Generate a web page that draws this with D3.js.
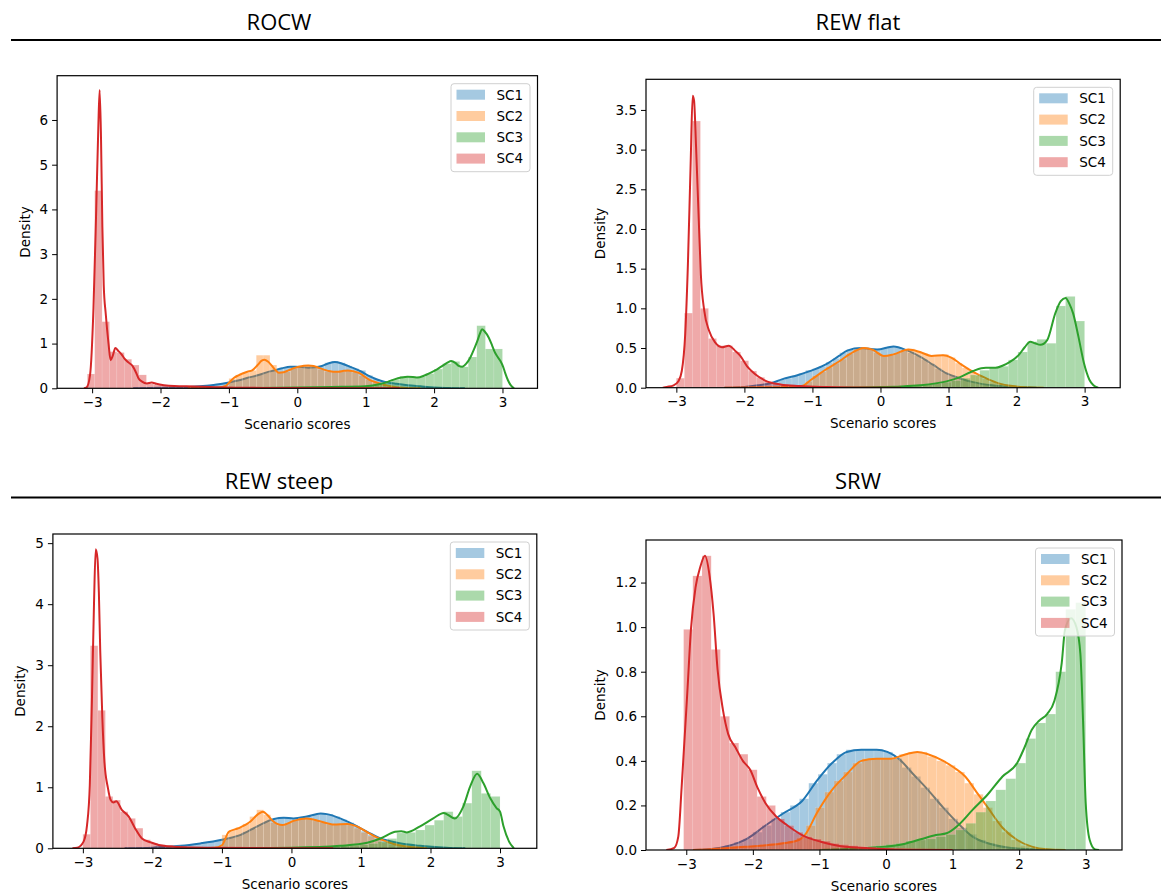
<!DOCTYPE html>
<html>
<head>
<meta charset="utf-8">
<script src="https://cdn.jsdelivr.net/npm/d3@7"></script>
<style>
body { margin: 0; background: #fff; }
text { font-family: "DejaVu Sans", sans-serif; }
</style>
</head>
<body>
<div id="chart"></div>
<script>
// series names, ticks
var seriesNames = ["SC1", "SC2", "SC3", "SC4"];
var colors = ["#1f77b4", "#ff7f0e", "#2ca02c", "#d62728"];
var xTicks = [-3, -2, -1, 0, 1, 2, 3];

// ---------- ROCW ----------
var rocw_sc1_bins = [-2.0, 0.1];
var rocw_sc1_hist = [0.01,0.015,0.02,0.025,0.03,0.04,0.06,0.08,0.10,0.12,0.14,0.17,0.21,0.26,0.30,0.35,0.39,0.43,0.46,0.49,0.48,0.46,0.46,0.50,0.57,0.61,0.57,0.50,0.44,0.40,0.29,0.21,0.15,0.11,0.09,0.07,0.06,0.05,0.04,0.03,0.02,0.015,0.01,0.005];
var rocw_sc2_bins = [-1.1, 0.1];
var rocw_sc2_hist = [0.04,0.22,0.30,0.35,0.40,0.74,0.74,0.52,0.36,0.37,0.44,0.48,0.52,0.48,0.42,0.38,0.37,0.38,0.40,0.36,0.28,0.19,0.13,0.08,0.05,0.03,0.015,0.005];
var rocw_sc3_bins = [-1.0, 0.125];
var rocw_sc3_hist = [0.005,0.005,0.008,0.01,0.012,0.015,0.018,0.02,0.022,0.025,0.03,0.033,0.036,0.04,0.045,0.05,0.07,0.09,0.14,0.20,0.27,0.24,0.26,0.33,0.43,0.55,0.60,0.48,0.70,1.40,0.88,0.88];
var rocw_sc4_bins = [-3.07, 0.108];
var rocw_sc4_hist = [0.32,4.42,1.49,0.82,0.80,0.65,0.52,0.30,0.10,0.08,0.07,0.06,0.05,0.05,0.04,0.04,0.035,0.03,0.025,0.02,0.02,0.015,0.012,0.01,0.008,0.006,0.005,0.004,0.003,0.002];
var rocw_sc1_kde = [[-2.4,0],[-2.0,0.01],[-1.67,0.02],[-1.38,0.05],[-1.2,0.08],[-1.0,0.13],[-0.85,0.18],[-0.71,0.24],[-0.58,0.29],[-0.46,0.35],[-0.34,0.40],[-0.22,0.45],[-0.10,0.48],[-0.03,0.48],[0.06,0.475],[0.16,0.46],[0.26,0.47],[0.36,0.50],[0.46,0.56],[0.55,0.59],[0.64,0.56],[0.74,0.50],[0.84,0.44],[0.94,0.37],[1.03,0.29],[1.13,0.22],[1.22,0.17],[1.32,0.13],[1.45,0.10],[1.61,0.07],[1.8,0.045],[2.0,0.02],[2.2,0.008],[2.45,0]];
var rocw_sc2_kde = [[-1.6,0],[-1.3,0.005],[-1.19,0.01],[-1.10,0.03],[-1.04,0.06],[-0.97,0.17],[-0.92,0.24],[-0.86,0.29],[-0.80,0.33],[-0.73,0.37],[-0.66,0.40],[-0.58,0.52],[-0.52,0.62],[-0.48,0.64],[-0.43,0.60],[-0.37,0.50],[-0.32,0.41],[-0.27,0.35],[-0.20,0.36],[-0.13,0.40],[-0.05,0.45],[0.02,0.48],[0.16,0.51],[0.24,0.50],[0.31,0.46],[0.45,0.39],[0.53,0.37],[0.60,0.37],[0.68,0.39],[0.74,0.40],[0.82,0.38],[0.89,0.35],[0.96,0.29],[1.03,0.21],[1.10,0.16],[1.18,0.12],[1.32,0.06],[1.45,0.025],[1.6,0.008],[1.8,0]];
var rocw_sc3_kde = [[-1.2,0],[-0.6,0.008],[0,0.018],[0.5,0.03],[0.99,0.045],[1.12,0.07],[1.23,0.10],[1.33,0.15],[1.42,0.20],[1.52,0.24],[1.61,0.26],[1.69,0.255],[1.76,0.24],[1.85,0.28],[1.95,0.35],[2.05,0.43],[2.14,0.52],[2.20,0.58],[2.25,0.61],[2.31,0.57],[2.36,0.50],[2.41,0.48],[2.47,0.55],[2.53,0.69],[2.58,0.86],[2.63,1.05],[2.67,1.22],[2.70,1.32],[2.74,1.27],[2.80,1.13],[2.85,0.95],[2.89,0.80],[2.93,0.70],[2.97,0.61],[3.01,0.48],[3.04,0.34],[3.08,0.18],[3.12,0.07],[3.17,0]];
var rocw_sc4_kde = [[-3.12,0],[-3.08,0.02],[-3.03,0.3],[-2.98,1.8],[-2.94,4.0],[-2.91,5.8],[-2.89,6.67],[-2.87,5.6],[-2.85,3.6],[-2.83,2.3],[-2.80,1.65],[-2.76,1.0],[-2.73,0.63],[-2.70,0.72],[-2.66,0.90],[-2.62,0.84],[-2.57,0.76],[-2.53,0.67],[-2.47,0.58],[-2.41,0.50],[-2.36,0.36],[-2.32,0.22],[-2.27,0.15],[-2.20,0.11],[-2.13,0.13],[-2.06,0.10],[-1.95,0.07],[-1.80,0.05],[-1.5,0.04],[-1.2,0.025],[-0.9,0.015],[-0.5,0.008],[0,0.004],[0.5,0.002],[1.0,0.001],[1.5,0]];

// ---------- REW flat ----------
var flat_sc1_bins = [-2.0, 0.1];
var flat_sc1_hist = [0.01,0.02,0.03,0.05,0.07,0.10,0.12,0.15,0.18,0.22,0.24,0.27,0.32,0.37,0.44,0.48,0.50,0.50,0.49,0.48,0.50,0.52,0.51,0.48,0.44,0.40,0.35,0.30,0.24,0.19,0.15,0.12,0.09,0.07,0.05,0.04,0.03,0.02,0.015,0.01,0.005];
var flat_sc2_bins = [-1.2, 0.1];
var flat_sc2_hist = [0.02,0.08,0.15,0.20,0.26,0.31,0.36,0.43,0.48,0.51,0.49,0.44,0.40,0.41,0.44,0.47,0.49,0.46,0.43,0.41,0.41,0.42,0.38,0.31,0.25,0.20,0.15,0.11,0.07,0.05,0.03,0.02,0.01];
var flat_sc3_bins = [-0.92, 0.14];
var flat_sc3_hist = [0.002,0.003,0.004,0.006,0.008,0.01,0.01,0.015,0.02,0.025,0.03,0.04,0.05,0.07,0.09,0.12,0.16,0.22,0.26,0.27,0.35,0.45,0.58,0.61,0.56,1.03,1.15,0.84];
var flat_sc4_bins = [-3.0, 0.118];
var flat_sc4_hist = [0.12,0.94,3.36,1.00,0.62,0.53,0.53,0.45,0.34,0.21,0.13,0.08,0.05,0.04,0.03,0.02,0.02,0.015,0.01,0.01,0.01,0.005,0.005];
var flat_sc1_kde = [[-2.3,0],[-2.0,0.01],[-1.8,0.03],[-1.6,0.06],[-1.45,0.105],[-1.21,0.16],[-0.97,0.23],[-0.77,0.31],[-0.61,0.40],[-0.48,0.47],[-0.29,0.50],[-0.05,0.48],[0.19,0.52],[0.39,0.47],[0.58,0.39],[0.77,0.29],[0.97,0.18],[1.16,0.12],[1.36,0.07],[1.64,0.03],[1.94,0.01],[2.3,0]];
var flat_sc2_kde = [[-2.3,0],[-1.8,0.005],[-1.4,0.01],[-1.16,0.02],[-1.02,0.10],[-0.82,0.22],[-0.61,0.33],[-0.44,0.43],[-0.24,0.50],[-0.12,0.48],[0.05,0.40],[0.19,0.42],[0.41,0.48],[0.58,0.45],[0.75,0.40],[0.92,0.41],[1.04,0.38],[1.19,0.29],[1.36,0.20],[1.55,0.12],[1.74,0.055],[1.94,0.02],[2.13,0.005],[2.4,0]];
var flat_sc3_kde = [[-1.0,0],[-0.5,0.003],[0,0.008],[0.3,0.015],[0.58,0.03],[0.97,0.08],[1.16,0.13],[1.36,0.21],[1.48,0.245],[1.55,0.25],[1.69,0.25],[1.80,0.28],[1.89,0.32],[2.03,0.41],[2.12,0.51],[2.20,0.58],[2.27,0.56],[2.35,0.54],[2.45,0.60],[2.57,0.94],[2.65,1.09],[2.72,1.13],[2.78,1.05],[2.83,0.94],[2.91,0.64],[2.99,0.31],[3.07,0.10],[3.13,0.03],[3.2,0]];
var flat_sc4_kde = [[-3.2,0],[-3.14,0.01],[-3.04,0.03],[-2.97,0.08],[-2.92,0.21],[-2.87,0.67],[-2.83,1.56],[-2.79,2.82],[-2.76,3.68],[-2.74,3.62],[-2.71,3.03],[-2.67,2.10],[-2.64,1.43],[-2.59,0.97],[-2.52,0.72],[-2.43,0.57],[-2.33,0.51],[-2.23,0.53],[-2.13,0.46],[-2.06,0.40],[-1.96,0.27],[-1.84,0.17],[-1.67,0.08],[-1.47,0.04],[-1.2,0.02],[-0.8,0.008],[-0.3,0.003],[0.3,0]];

// ---------- REW steep ----------
var steep_sc1_bins = [-2.0, 0.1];
var steep_sc1_hist = [0.01,0.02,0.03,0.035,0.045,0.055,0.07,0.09,0.11,0.13,0.15,0.18,0.22,0.27,0.32,0.38,0.43,0.47,0.50,0.50,0.49,0.50,0.52,0.55,0.57,0.56,0.52,0.47,0.42,0.35,0.28,0.22,0.17,0.12,0.10,0.08,0.06,0.05,0.04,0.03,0.02,0.015,0.01];
var steep_sc2_bins = [-1.1, 0.1];
var steep_sc2_hist = [0.03,0.22,0.30,0.34,0.40,0.52,0.63,0.55,0.42,0.38,0.42,0.46,0.49,0.48,0.45,0.42,0.39,0.39,0.40,0.38,0.33,0.26,0.20,0.14,0.09,0.06,0.04,0.02,0.01];
var steep_sc3_bins = [-1.05, 0.135];
var steep_sc3_hist = [0.001,0.001,0.002,0.003,0.004,0.006,0.008,0.01,0.012,0.015,0.02,0.025,0.03,0.04,0.05,0.06,0.08,0.11,0.16,0.25,0.26,0.30,0.38,0.46,0.60,0.52,0.74,1.27,0.90,0.85];
var steep_sc4_bins = [-3.0, 0.108];
var steep_sc4_hist = [0.23,3.32,2.26,0.85,0.79,0.60,0.49,0.33,0.14,0.08,0.06,0.05,0.04,0.035,0.03,0.025,0.02,0.02,0.015,0.015,0.01,0.01,0.01,0.008,0.006,0.005,0.004,0.003];
var steep_sc1_kde = [[-2.4,0],[-2.0,0.01],[-1.8,0.025],[-1.59,0.04],[-1.31,0.08],[-1.0,0.14],[-0.73,0.22],[-0.49,0.36],[-0.25,0.48],[-0.11,0.50],[0.03,0.49],[0.22,0.52],[0.42,0.57],[0.51,0.56],[0.70,0.49],[0.89,0.39],[1.09,0.27],[1.28,0.16],[1.52,0.09],[1.85,0.04],[2.23,0.01],[2.5,0]];
var steep_sc2_kde = [[-1.6,0],[-1.3,0.005],[-1.11,0.01],[-1.0,0.05],[-0.90,0.27],[-0.76,0.33],[-0.59,0.44],[-0.48,0.56],[-0.41,0.60],[-0.35,0.55],[-0.28,0.46],[-0.13,0.38],[0.03,0.45],[0.22,0.49],[0.42,0.44],[0.61,0.39],[0.80,0.40],[0.94,0.36],[1.11,0.25],[1.28,0.15],[1.47,0.07],[1.76,0.016],[1.95,0]];
var steep_sc3_kde = [[-1.0,0],[-0.4,0.004],[0,0.008],[0.70,0.04],[1.09,0.09],[1.28,0.16],[1.49,0.27],[1.58,0.28],[1.66,0.26],[1.85,0.36],[2.04,0.49],[2.19,0.58],[2.35,0.49],[2.47,0.68],[2.57,1.01],[2.67,1.22],[2.76,1.07],[2.86,0.82],[2.95,0.66],[3.0,0.60],[3.05,0.36],[3.13,0.11],[3.2,0]];
var steep_sc4_kde = [[-3.15,0],[-3.08,0.01],[-2.99,0.11],[-2.94,0.38],[-2.90,1.04],[-2.87,2.41],[-2.84,4.0],[-2.815,4.9],[-2.79,4.75],[-2.77,4.2],[-2.75,3.23],[-2.72,2.14],[-2.69,1.42],[-2.64,0.99],[-2.60,0.79],[-2.56,0.75],[-2.52,0.77],[-2.44,0.63],[-2.34,0.52],[-2.25,0.33],[-2.15,0.16],[-2.03,0.10],[-1.84,0.04],[-1.56,0.016],[-1.2,0.008],[-0.6,0.004],[0,0.002],[0.6,0]];

// ---------- SRW ----------
var srw_sc1_bins = [-2.7, 0.14];
var srw_sc1_hist = [0.005,0.01,0.02,0.035,0.05,0.08,0.11,0.14,0.17,0.20,0.23,0.30,0.34,0.39,0.43,0.45,0.45,0.45,0.45,0.44,0.41,0.37,0.33,0.28,0.23,0.19,0.14,0.10,0.07,0.045,0.03,0.018,0.01];
var srw_sc2_bins = [-2.6, 0.14];
var srw_sc2_hist = [0.005,0.008,0.012,0.015,0.02,0.025,0.03,0.035,0.04,0.055,0.11,0.19,0.26,0.31,0.35,0.39,0.41,0.41,0.41,0.41,0.43,0.44,0.44,0.42,0.40,0.38,0.35,0.30,0.25,0.19,0.13,0.08,0.045,0.02,0.01,0.004];
var srw_sc3_bins = [-0.9, 0.15];
var srw_sc3_hist = [0.003,0.005,0.008,0.01,0.015,0.02,0.025,0.03,0.04,0.045,0.05,0.06,0.07,0.09,0.12,0.17,0.22,0.27,0.32,0.39,0.50,0.57,0.61,0.80,1.08,1.11];
var srw_sc4_bins = [-3.04, 0.138];
var srw_sc4_hist = [0.99,1.23,1.32,0.90,0.60,0.48,0.43,0.36,0.24,0.20,0.14,0.11,0.08,0.06,0.05,0.04,0.03,0.025,0.02,0.015,0.012,0.01,0.008,0.006,0.005,0.004,0.003,0.002,0.002,0.001];
var srw_sc1_kde = [[-2.9,0],[-2.65,0.003],[-2.37,0.018],[-2.09,0.05],[-1.81,0.11],[-1.54,0.165],[-1.26,0.22],[-1.04,0.31],[-0.81,0.39],[-0.59,0.44],[-0.37,0.45],[-0.14,0.45],[0.02,0.44],[0.19,0.41],[0.41,0.34],[0.63,0.27],[0.86,0.19],[1.08,0.12],[1.30,0.06],[1.53,0.03],[1.80,0.012],[2.19,0.003],[2.5,0]];
var srw_sc2_kde = [[-2.9,0],[-2.65,0.003],[-2.09,0.015],[-1.54,0.03],[-1.31,0.045],[-1.20,0.075],[-1.04,0.165],[-0.81,0.27],[-0.59,0.34],[-0.37,0.40],[-0.14,0.41],[0.08,0.41],[0.30,0.43],[0.47,0.44],[0.63,0.43],[0.86,0.40],[1.02,0.37],[1.19,0.33],[1.36,0.26],[1.53,0.19],[1.75,0.10],[1.97,0.045],[2.19,0.015],[2.42,0.003],[2.7,0]];
var srw_sc3_kde = [[-1.0,0],[-0.70,0.003],[-0.14,0.012],[0.19,0.022],[0.52,0.048],[0.75,0.067],[0.91,0.075],[1.08,0.11],[1.30,0.18],[1.53,0.25],[1.75,0.33],[1.97,0.39],[2.08,0.46],[2.19,0.54],[2.30,0.58],[2.42,0.61],[2.53,0.67],[2.64,0.84],[2.69,0.99],[2.78,1.04],[2.86,1.00],[2.92,0.88],[2.96,0.58],[3.0,0.21],[3.06,0.045],[3.14,0.003],[3.2,0]];
var srw_sc4_kde = [[-3.3,0],[-3.18,0.01],[-3.12,0.06],[-3.07,0.28],[-2.98,0.73],[-2.93,0.99],[-2.86,1.18],[-2.79,1.27],[-2.72,1.32],[-2.65,1.23],[-2.59,1.06],[-2.53,0.81],[-2.45,0.63],[-2.37,0.52],[-2.26,0.46],[-2.15,0.40],[-2.04,0.36],[-1.93,0.28],[-1.81,0.21],[-1.65,0.15],[-1.48,0.11],[-1.26,0.067],[-0.98,0.037],[-0.70,0.018],[-0.14,0.006],[0.41,0.001],[1.0,0]];

// y tick values per panel
var rocwYTicks = [0, 1, 2, 3, 4, 5, 6];
var flatYTicks = [0, 0.5, 1.0, 1.5, 2.0, 2.5, 3.0, 3.5];
var steepYTicks = [0, 1, 2, 3, 4, 5];
var srwYTicks = [0, 0.2, 0.4, 0.6, 0.8, 1.0, 1.2];

var panels = [
    { title: "ROCW", tx: 279, ty: 30, left: 57.1, right: 537.5, top: 75.7, bottom: 388.3,
      xdom: [-3.512, 3.512], ydom: [0, 6.99], yticks: rocwYTicks, yfmt: "d", ylabX: 25,
      bins: [rocw_sc1_bins, rocw_sc2_bins, rocw_sc3_bins, rocw_sc4_bins],
      hist: [rocw_sc1_hist, rocw_sc2_hist, rocw_sc3_hist, rocw_sc4_hist],
      kde: [rocw_sc1_kde, rocw_sc2_kde, rocw_sc3_kde, rocw_sc4_kde] },
    { title: "REW flat", tx: 858, ty: 30, left: 646, right: 1120.2, top: 79.3, bottom: 387.7,
      xdom: [-3.446, 3.523], ydom: [0, 3.886], yticks: flatYTicks, yfmt: ".1f", ylabX: 600,
      bins: [flat_sc1_bins, flat_sc2_bins, flat_sc3_bins, flat_sc4_bins],
      hist: [flat_sc1_hist, flat_sc2_hist, flat_sc3_hist, flat_sc4_hist],
      kde: [flat_sc1_kde, flat_sc2_kde, flat_sc3_kde, flat_sc4_kde] },
    { title: "REW steep", tx: 279, ty: 489, left: 52.9, right: 536.8, top: 534, bottom: 848.3,
      xdom: [-3.431, 3.529], ydom: [0, 5.15], yticks: steepYTicks, yfmt: "d", ylabX: 20,
      bins: [steep_sc1_bins, steep_sc2_bins, steep_sc3_bins, steep_sc4_bins],
      hist: [steep_sc1_hist, steep_sc2_hist, steep_sc3_hist, steep_sc4_hist],
      kde: [steep_sc1_kde, steep_sc2_kde, steep_sc3_kde, steep_sc4_kde] },
    { title: "SRW", tx: 858, ty: 489, left: 646, right: 1122, top: 540, bottom: 850,
      xdom: [-3.605, 3.545], ydom: [0, 1.391], yticks: srwYTicks, yfmt: ".1f", ylabX: 600,
      bins: [srw_sc1_bins, srw_sc2_bins, srw_sc3_bins, srw_sc4_bins],
      hist: [srw_sc1_hist, srw_sc2_hist, srw_sc3_hist, srw_sc4_hist],
      kde: [srw_sc1_kde, srw_sc2_kde, srw_sc3_kde, srw_sc4_kde] }
];

var svg = d3.select("#chart")
    .append("svg")
    .attr("width", 1161)
    .attr("height", 896)
    .style("display", "block");

svg.append("rect").attr("width", 1161).attr("height", 896).attr("fill", "#fff");

// header rules
[40, 497.5].forEach(function (yy) {
    svg.append("line")
        .attr("x1", 11).attr("x2", 1161)
        .attr("y1", yy).attr("y2", yy)
        .attr("stroke", "#000").attr("stroke-width", 2.2);
});

panels.forEach(function (p, pi) {
    // title
    svg.append("text")
        .attr("x", p.tx).attr("y", p.ty)
        .attr("text-anchor", "middle")
        .style("font-family", "'Open Sans', sans-serif")
        .style("font-size", "22px")
        .text(p.title);

    var x = d3.scaleLinear().domain(p.xdom).range([p.left, p.right]);
    var y = d3.scaleLinear().domain(p.ydom).range([p.bottom, p.top]);

    var clipId = "clip" + pi;
    svg.append("clipPath").attr("id", clipId)
        .append("rect")
        .attr("x", p.left).attr("y", p.top)
        .attr("width", p.right - p.left).attr("height", p.bottom - p.top);

    var plot = svg.append("g").attr("clip-path", "url(#" + clipId + ")");

    var line = d3.line()
        .x(function (d) { return x(d[0]); })
        .y(function (d) { return y(d[1]); })
        .curve(d3.curveMonotoneX);

    // each series: histogram bars, then kde line
    seriesNames.forEach(function (name, si) {
        var b = p.bins[si];
        plot.append("g")
            .selectAll("rect")
            .data(p.hist[si])
            .enter()
            .append("rect")
            .attr("x", function (d, i) { return x(b[0] + i * b[1]); })
            .attr("width", function (d, i) { return x(b[0] + (i + 1) * b[1]) - x(b[0] + i * b[1]); })
            .attr("y", function (d) { return y(d); })
            .attr("height", function (d) { return y(0) - y(d); })
            .attr("fill", colors[si])
            .attr("fill-opacity", 0.4)
            .attr("stroke", "#fff")
            .attr("stroke-opacity", 0.25)
            .attr("stroke-width", 0.5);

        plot.append("path")
            .datum(p.kde[si])
            .attr("d", line)
            .attr("fill", "none")
            .attr("stroke", colors[si])
            .attr("stroke-width", 2)
            .attr("stroke-linejoin", "round");
    });

    // axes
    var xAxis = svg.append("g")
        .attr("transform", "translate(0," + p.bottom + ")")
        .call(d3.axisBottom(x).tickValues(xTicks).tickFormat(d3.format("d")).tickSize(5).tickPadding(4));
    var yAxis = svg.append("g")
        .attr("transform", "translate(" + p.left + ",0)")
        .call(d3.axisLeft(y).tickValues(p.yticks).tickFormat(d3.format(p.yfmt)).tickSize(5).tickPadding(4));
    [xAxis, yAxis].forEach(function (a) {
        a.select(".domain").remove();
        a.selectAll("line").attr("stroke", "#000").attr("stroke-width", 1);
        a.selectAll("text")
            .style("font-family", "'DejaVu Sans', sans-serif")
            .style("font-size", "13.5px")
            .attr("fill", "#000");
    });

    // frame
    svg.append("rect")
        .attr("x", p.left).attr("y", p.top)
        .attr("width", p.right - p.left).attr("height", p.bottom - p.top)
        .attr("fill", "none").attr("stroke", "#000").attr("stroke-width", 1.2);

    // axis labels
    svg.append("text")
        .attr("x", (p.left + p.right) / 2)
        .attr("y", p.bottom + 36)
        .attr("dy", "0.35em")
        .attr("text-anchor", "middle")
        .style("font-size", "13.5px")
        .text("Scenario scores");
    svg.append("text")
        .attr("transform", "translate(" + p.ylabX + "," + ((p.top + p.bottom) / 2) + ") rotate(-90)")
        .attr("dy", "0.35em")
        .attr("text-anchor", "middle")
        .style("font-size", "13.5px")
        .text("Density");

    // legend
    var lg = svg.append("g")
        .attr("transform", "translate(" + (p.right - 7.5 - 79) + "," + (p.top + 8) + ")");
    lg.append("rect")
        .attr("width", 79).attr("height", 88).attr("rx", 3)
        .attr("fill", "#fff").attr("fill-opacity", 0.8)
        .attr("stroke", "#d0d0d0").attr("stroke-width", 1);
    seriesNames.forEach(function (name, si) {
        var cy = 11 + si * 21.3;
        lg.append("rect")
            .attr("x", 5.5).attr("y", cy - 5)
            .attr("width", 28.5).attr("height", 10)
            .attr("fill", colors[si]).attr("fill-opacity", 0.4);
        lg.append("text")
            .attr("x", 45.5).attr("y", cy)
            .attr("dy", "0.36em")
            .style("font-size", "13.5px")
            .text(name);
    });
});
</script>
</body>
</html>
